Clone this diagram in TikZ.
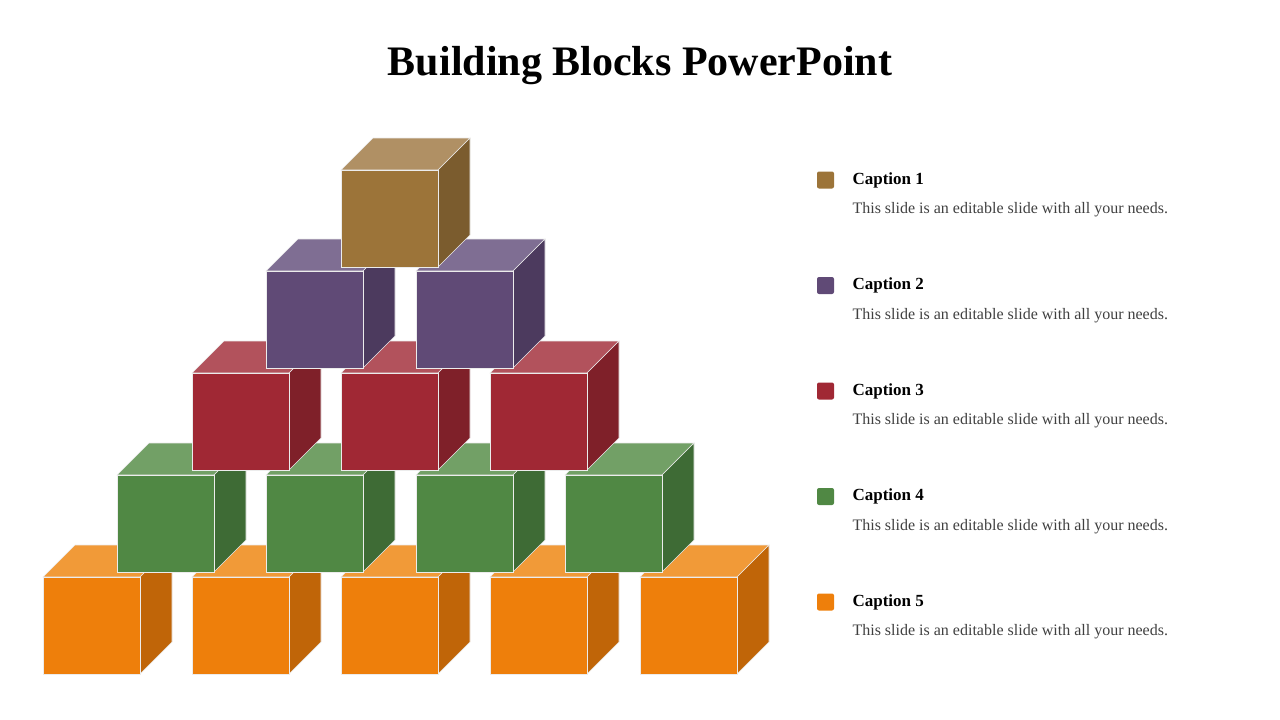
\documentclass[tikz,border=0pt]{standalone}
\usepackage{fontspec}
\setmainfont{Liberation Serif}
\definecolor{orF}{HTML}{EE7F0B}\definecolor{orT}{HTML}{F19A38}\definecolor{orS}{HTML}{C06508}
\definecolor{grF}{HTML}{508844}\definecolor{grT}{HTML}{72A066}\definecolor{grS}{HTML}{3E6B35}
\definecolor{rdF}{HTML}{A02834}\definecolor{rdT}{HTML}{B2525C}\definecolor{rdS}{HTML}{7F2029}
\definecolor{puF}{HTML}{604A76}\definecolor{puT}{HTML}{7F6E93}\definecolor{puS}{HTML}{4C3A5E}
\definecolor{brF}{HTML}{9C7439}\definecolor{brT}{HTML}{B09064}\definecolor{brS}{HTML}{7B5C2E}
\definecolor{txt}{HTML}{404040}
\newcommand\blk[3]{% x y colorprefix
  \fill[#3T,draw=white!85!gray,line width=0.6pt] (#1,#2) -- ++(32,-32) -- ++(97,0) -- ++(-32,32) -- cycle;
  \fill[#3S,draw=white!85!gray,line width=0.6pt] (#1+97,#2) -- ++(32,-32) -- ++(0,97) -- ++(-32,32) -- cycle;
  \fill[#3F,draw=white!85!gray,line width=0.6pt] (#1,#2) rectangle ++(97,97);}
\tikzset{captext/.style={anchor=west,font=\bfseries\fontsize{17}{20}\selectfont},
 desc/.style={anchor=west,text=txt,font=\fontsize{16}{19}\selectfont},
 sq/.style={rounded corners=2pt,minimum size=17pt,inner sep=0pt}}
\begin{document}
\begin{tikzpicture}[x=1pt,y=-1pt]
\useasboundingbox (0,0) rectangle (1280,720);
\node[font=\bfseries\fontsize{42}{48}\selectfont] (title) at (640,66) {Building Blocks PowerPoint};
\foreach \x in {43,192,341,490,640}{\blk{\x}{577}{or}}
\foreach \x in {117,266,416,565}{\blk{\x}{475}{gr}}
\foreach \x in {192,341,490}{\blk{\x}{373}{rd}}
\foreach \x in {266,416}{\blk{\x}{271}{pu}}
\blk{341}{170}{br}
\foreach \c/\y [count=\i] in {br/180,pu/285.5,rd/391,gr/496.5,or/602}{
  \node[sq,fill=\c F] (s\i) at (825.5,\y) {};
  \node[captext] (c\i) at (849,\y) {Caption \i};
  \node[desc] (d\i) at (849,\y+30) {This slide is an editable slide with all your needs.};
}
\end{tikzpicture}
\end{document}
